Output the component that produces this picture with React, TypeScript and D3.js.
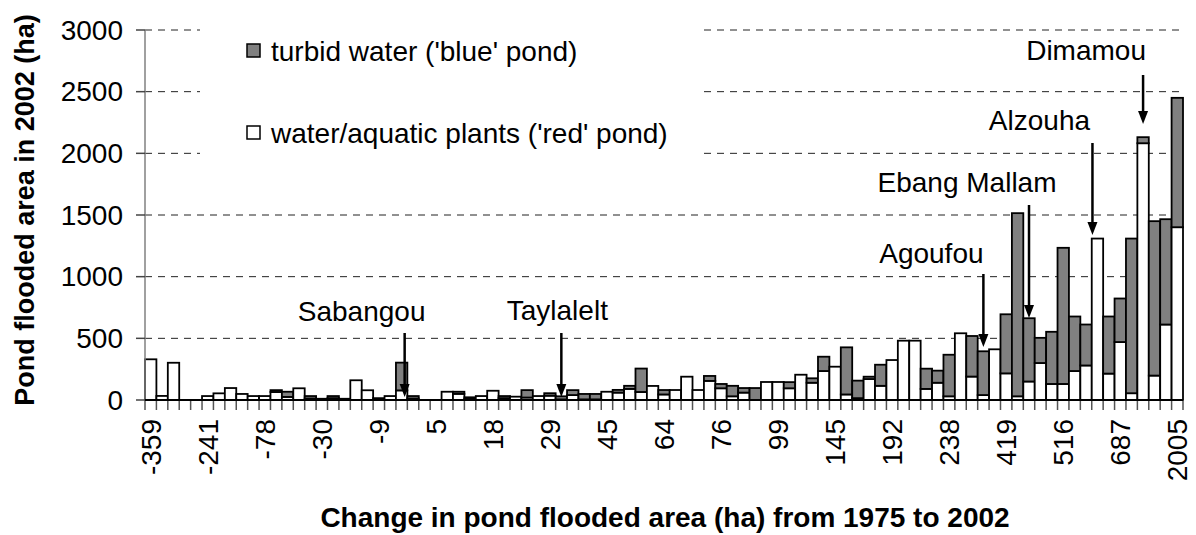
import React from 'react';
import * as d3 from 'd3';

// ---- data ----
const tickLabels = ['-359', '-241', '-78', '-30', '-9', '5', '18', '29', '45', '64', '76', '99', '145', '192', '238', '419', '516', '687', '2005'];
const labelEvery = 5;

// water/aquatic plants ('red' pond) – white, bottom segment (ha)
const redPond = [
  330, 33, 302, 0, 0, 32, 54, 97, 49, 32,
  32, 65, 25, 95, 12, 5, 15, 5, 160, 79,
  5, 32, 78, 12, 0, 0, 67, 50, 10, 32,
  75, 15, 27, 20, 32, 35, 5, 40, 5, 5,
  67, 60, 90, 65, 114, 45, 81, 189, 81, 155,
  95, 30, 60, 0, 146, 146, 95, 205, 140, 235,
  270, 45, 15, 170, 115, 324, 481, 481, 90, 140,
  30, 541, 190, 40, 411, 216, 30, 150, 300, 130,
  130, 235, 280, 1309, 214, 470, 55, 2082, 198, 612,
  1401,
];

// turbid water ('blue' pond) – grey, top segment (ha)
const bluePond = [
  0, 0, 0, 0, 0, 0, 0, 0, 0, 0,
  0, 15, 42, 0, 20, 5, 17, 5, 0, 0,
  10, 0, 225, 20, 0, 0, 0, 17, 12, 0,
  0, 17, 0, 60, 0, 20, 25, 40, 44, 44,
  0, 22, 25, 190, 0, 36, 0, 0, 0, 40,
  35, 85, 37, 97, 0, 0, 50, 0, 36, 116,
  0, 382, 142, 19, 171, 0, 0, 0, 164, 98,
  337, 0, 329, 355, 0, 479, 1485, 513, 204, 423,
  1104, 442, 332, 0, 463, 353, 1254, 49, 1252, 854,
  1049,
];

const yTicks = [0, 500, 1000, 1500, 2000, 2500, 3000];

const annotationNames = ['Sabangou', 'Taylalelt', 'Agoufou', 'Ebang Mallam', 'Alzouha', 'Dimamou'];
const annotationIndex = [22, 36, 73, 77, 83, 87];

const legendLabels = ["turbid water ('blue' pond)", "water/aquatic plants ('red' pond)"];

// ---- layout ----
const W = 1196;
const H = 535;
const M = { left: 145, right: 1183, top: 30, bottom: 400 };
const FONT = "'Liberation Sans', Arial, Helvetica, sans-serif";
const FS = 28;
const GREY = '#808080';

// annotation placement (pixels): text centre x offset, text baseline, arrow start, arrow tip, arrow x offset
const annLayout = [
  { tx: -43, ty: 321, y1: 333, y2: 397, dx: 3 },
  { tx: -4, ty: 320, y1: 333, y2: 397, dx: 0 },
  { tx: -52, ty: 263, y1: 274, y2: 347, dx: 0 },
  { tx: -62, ty: 192, y1: 205, y2: 318, dx: 0 },
  { tx: -53, ty: 130, y1: 143, y2: 235, dx: -5 },
  { tx: -57, ty: 60, y1: 75, y2: 124, dx: 0 },
];

export default function App() {
  const idx = redPond.map((_, i) => i);
  const x = d3.scaleBand<number>().domain(idx).range([M.left, M.right]).padding(0);
  const y = d3.scaleLinear().domain([0, 3000]).range([M.bottom, M.top]);
  const bw = x.bandwidth();

  const arrow = (cx: number, y1: number, y2: number, key: string) => {
    const hl = 13;
    const hw = 5;
    return (
      <g key={key}>
        <line x1={cx} x2={cx} y1={y1} y2={y2 - hl + 1} stroke="#000" strokeWidth={2.5} />
        <path d={`M${cx - hw},${y2 - hl} L${cx + hw},${y2 - hl} L${cx},${y2} Z`} fill="#000" />
      </g>
    );
  };

  return (
    <svg width={W} height={H} style={{ position: 'absolute', left: 0, top: 0, background: '#fff' }} fontFamily={FONT}>
      <rect x={0} y={0} width={W} height={H} fill="#fff" />
      {/* gridlines */}
      {yTicks.filter((t) => t > 0).map((t) => (
        <line key={`g${t}`} x1={M.left} x2={M.right} y1={y(t)} y2={y(t)} stroke="#222" strokeWidth={1} strokeDasharray="7,6" />
      ))}
      {/* legend background */}
      <rect x={200} y={14} width={504} height={148} fill="#fff" />

      {/* bars */}
      {idx.map((i) => {
        const r = redPond[i];
        const b = bluePond[i];
        const x0 = x(i)!;
        return (
          <g key={`b${i}`}>
            {r > 0 && (
              <rect x={x0} y={y(r)} width={bw} height={y(0) - y(r)} fill="#fff" stroke="#000" strokeWidth={1.8} />
            )}
            {b > 0 && (
              <rect x={x0} y={y(r + b)} width={bw} height={y(r) - y(r + b)} fill={GREY} stroke="#000" strokeWidth={1.8} />
            )}
          </g>
        );
      })}

      {/* y axis */}
      <line x1={M.left} x2={M.left} y1={y(3000)} y2={y(0)} stroke={GREY} strokeWidth={1.5} />
      {yTicks.map((t) => (
        <g key={`yt${t}`}>
          <line x1={M.left - 9} x2={M.left} y1={y(t)} y2={y(t)} stroke="#444" strokeWidth={1.5} />
          <text x={M.left - 22} y={y(t)} dy="0.35em" textAnchor="end" fontSize={FS} fill="#000">
            {t}
          </text>
        </g>
      ))}

      {/* x axis */}
      {[...idx, idx.length].map((i) => {
        const xx = M.left + i * bw;
        return <line key={`xt${i}`} x1={xx} x2={xx} y1={y(0)} y2={y(0) + 10} stroke="#555" strokeWidth={1.5} />;
      })}
      <line x1={M.left} x2={M.right} y1={y(0)} y2={y(0)} stroke="#000" strokeWidth={2} />
      {tickLabels.map((lab, k) => {
        const i = k * labelEvery;
        const cx = x(i)! + bw / 2;
        return (
          <text key={`xl${k}`} transform={`translate(${cx},${419}) rotate(-90)`} dy="0.35em" textAnchor="end" fontSize={FS} fill="#000">
            {lab}
          </text>
        );
      })}

      {/* axis titles */}
      <text transform={`translate(25,${210}) rotate(-90)`} dy="0.35em" textAnchor="middle" fontSize={27} fontWeight="bold">
        Pond flooded area in 2002 (ha)
      </text>
      <text x={665} y={527} textAnchor="middle" fontSize={FS} fontWeight="bold">
        Change in pond flooded area (ha) from 1975 to 2002
      </text>

      {/* legend */}
      <rect x={247} y={44} width={13} height={13} fill={GREY} stroke="#000" strokeWidth={1.5} />
      <text x={271} y={51} dy="0.35em" fontSize={FS}>{legendLabels[0]}</text>
      <rect x={247} y={126} width={13} height={13} fill="#fff" stroke="#000" strokeWidth={1.5} />
      <text x={271} y={133} dy="0.35em" fontSize={FS}>{legendLabels[1]}</text>

      {/* annotations */}
      {annotationNames.map((name, k) => {
        const L = annLayout[k];
        const cx = x(annotationIndex[k])! + bw / 2 + L.dx;
        return (
          <g key={`a${k}`}>
            <text x={cx + L.tx} y={L.ty} textAnchor="middle" fontSize={FS}>{name}</text>
            {arrow(cx, L.y1, L.y2, `ar${k}`)}
          </g>
        );
      })}
    </svg>
  );
}
